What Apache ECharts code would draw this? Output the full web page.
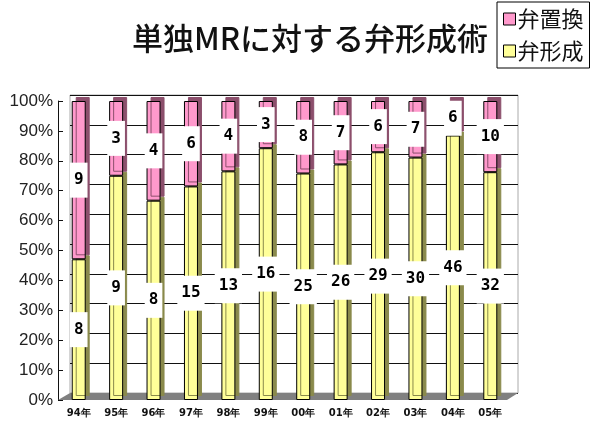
<!DOCTYPE html>
<html>
<head>
<meta charset="utf-8">
<script src="https://cdn.jsdelivr.net/npm/echarts@6/dist/echarts.min.js"></script>
<style>
	html, body { margin: 0; padding: 0; background: #fff; }
	#chart { width: 600px; height: 425px; }
</style>
</head>
<body>
<div id="chart"></div>
<script>
//年度
const years = ['94年', '95年', '96年', '97年', '98年', '99年', '00年', '01年', '02年', '03年', '04年', '05年'];
//弁形成 件数
const repairCounts = [8, 9, 8, 15, 13, 16, 25, 26, 29, 30, 46, 32];
//弁置換 件数
const replaceCounts = [9, 3, 4, 6, 4, 3, 8, 7, 6, 7, 6, 10];
//目盛り
const yTicks = [0, 10, 20, 30, 40, 50, 60, 70, 80, 90, 100];

const toPercent = function (list, index) {
	return (list[index] / (repairCounts[index] + replaceCounts[index])) * 100;
};

const labelStyle = {
	show: true,
	position: 'inside',
	color: '#000',
	fontFamily: 'DejaVu Sans Mono',
	fontWeight: 'bold',
	fontSize: 16,
	backgroundColor: '#fff',
	padding: [10, 4, 9, 4],
	formatter: function (p) {
		return p.data.count;
	}
};

const makeData = function (list) {
	return list.map(function (v, i) {
		return { value: toPercent(list, i), count: v };
	});
};

const echart = echarts.init(document.getElementById('chart'));

const options = {
	backgroundColor: '#fff',
	animation: false,
	title: {
		text: '単独MRに対する弁形成術',
		left: 305,
		top: 18,
		textAlign: 'center',
		textStyle: {
			fontFamily: 'Noto Sans CJK JP',
			fontSize: 31,
			fontWeight: 500,
			color: '#111'
		}
	},
	legend: {
		orient: 'vertical',
		left: 497,
		top: 2,
		data: ['弁置換', '弁形成'],
		icon: 'rect',
		itemWidth: 12,
		itemHeight: 12,
		itemGap: 10,
		padding: [6, 6, 6, 6],
		borderColor: '#000',
		borderWidth: 1,
		backgroundColor: '#fff',
		itemStyle: {
			borderColor: '#000',
			borderWidth: 1
		},
		textStyle: {
			fontFamily: 'Noto Sans CJK JP',
			fontSize: 22,
			color: '#111',
			padding: [0, 0, 0, -3]
		}
	},
	grid: [{
			//奥の壁
			left: 70,
			right: 82,
			top: 95,
			bottom: 32,
			show: true,
			backgroundColor: '#fff',
			borderColor: '#aaa',
			borderWidth: 1
		}, {
			//手前
			left: 60,
			right: 91,
			top: 101,
			bottom: 25
		}
	],
	xAxis: [{
			gridIndex: 0,
			type: 'category',
			data: years,
			show: false
		}, {
			gridIndex: 1,
			type: 'category',
			data: years,
			axisLine: { show: false },
			axisTick: { show: false },
			axisLabel: {
				margin: 8,
				fontFamily: 'DejaVu Sans',
				fontSize: 10,
				fontWeight: 'bold',
				color: '#111'
			}
		}
	],
	yAxis: [{
			gridIndex: 0,
			type: 'value',
			min: 0,
			max: 100,
			interval: 10,
			axisLine: { show: false },
			axisTick: { show: false },
			axisLabel: { show: false },
			splitLine: {
				show: true,
				lineStyle: { color: '#111', width: 1 }
			}
		}, {
			gridIndex: 1,
			type: 'value',
			min: yTicks[0],
			max: yTicks[yTicks.length - 1],
			interval: yTicks[1] - yTicks[0],
			offset: 2,
			axisLine: {
				show: true,
				lineStyle: { color: '#111', width: 1 }
			},
			axisTick: {
				show: true,
				inside: true,
				length: 5,
				lineStyle: { color: '#111' }
			},
			axisLabel: {
				margin: 5,
				fontFamily: 'Liberation Sans',
				fontSize: 17,
				color: '#222',
				formatter: '{value}%'
			},
			splitLine: { show: false }
		}
	],
	graphic: [{
			//床
			type: 'polygon',
			z: 1,
			shape: {
				points: [[58, 400], [507, 400], [518, 393], [70, 393]]
			},
			style: { fill: '#808080' }
		}
	],
	series: [{
			name: '弁形成',
			type: 'bar',
			xAxisIndex: 1,
			yAxisIndex: 1,
			stack: 'total',
			barWidth: 14,
			z: 3,
			itemStyle: {
				color: '#FFFF99',
				borderColor: '#000',
				borderWidth: 1,
				shadowColor: '#8a8a4c',
				shadowOffsetX: 4,
				shadowOffsetY: -4,
				shadowBlur: 0
			},
			label: labelStyle,
			data: makeData(repairCounts)
		}, {
			name: '弁置換',
			type: 'bar',
			xAxisIndex: 1,
			yAxisIndex: 1,
			stack: 'total',
			barWidth: 14,
			z: 3,
			itemStyle: {
				color: '#FF99CC',
				borderColor: '#000',
				borderWidth: 1,
				shadowColor: '#8c4f6c',
				shadowOffsetX: 4,
				shadowOffsetY: -4,
				shadowBlur: 0
			},
			label: labelStyle,
			data: makeData(replaceCounts)
		}
	]
};

echart.setOption(options);
</script>
</body>
</html>
